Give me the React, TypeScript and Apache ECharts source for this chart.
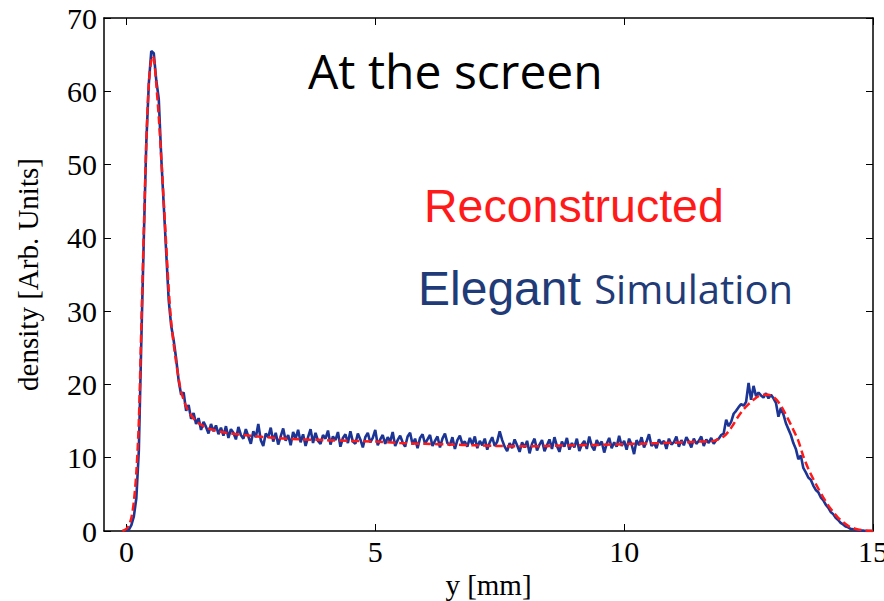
import React, { useEffect, useRef } from "react";
import * as echarts from "echarts";

// Simulation (blue), sampled every 0.05 mm starting at 0
const simStart = 0;
const simStep = 0.05;
const simDensity = [
  0, 0.2, 0.8, 2.0, 4.5, 11, 26, 40, 53, 61,
  65.5, 65.2, 61.5, 59.0, 51, 44.5, 38, 31.5, 28, 26,
  23.5, 20.5, 18.6, 18.9, 16.4, 17.2, 15.3, 16.1, 14.6, 15.4,
  13.8, 14.9, 14.2, 13.3, 14.6, 13.6, 14.4, 13.2, 14.1, 13.0,
  14.3, 12.7, 13.9, 13.4, 12.5, 14.2, 13.1, 12.6, 13.9, 12.9,
  11.9, 13.6, 12.8, 14.6, 12.4, 11.6, 13.3, 12.8, 14.1, 12.2,
  13.4, 11.8, 12.9, 14.0, 12.3, 13.1, 11.7, 13.5, 12.6, 13.8,
  12.1, 13.2, 11.6, 12.8, 13.9, 12.0, 13.4, 12.3, 11.9, 13.1,
  12.6, 13.7, 11.8, 12.9, 12.4, 13.5, 11.5, 12.7, 13.2, 12.0,
  13.6, 12.2, 11.9, 13.3, 12.5, 11.4, 12.8, 13.4, 12.1, 12.7,
  13.8, 11.7, 12.5, 13.1, 11.9, 12.8, 12.2, 13.5, 11.6, 12.4,
  13.0, 12.1, 11.5, 12.9, 13.4, 11.8, 12.6, 11.3, 12.7, 13.2,
  11.9, 12.5, 13.1, 11.6, 12.3, 12.9, 11.4, 12.6, 13.3, 12.0,
  11.7, 12.8, 11.2, 12.4, 13.0, 11.9, 12.2, 11.5, 12.7, 11.8,
  12.9, 11.3, 12.3, 11.7, 12.6, 11.1, 12.1, 12.8, 11.6, 12.2,
  13.6, 12.4, 11.5, 10.9, 12.0, 11.3, 12.5, 11.7, 10.8, 12.1,
  11.4, 12.3, 10.6, 11.9, 12.6, 11.0, 11.8, 12.4, 10.9, 11.7,
  12.5, 11.2, 12.8, 11.6, 10.8, 12.2, 11.5, 12.7, 11.1, 12.0,
  11.4, 12.6, 10.9, 11.8, 12.3, 11.2, 12.9, 11.6, 11.0, 12.4,
  11.7, 12.2, 10.7, 11.9, 12.7, 11.3, 12.1, 11.5, 13.0, 11.6,
  12.3, 11.1, 12.6, 11.8, 10.5, 12.4, 11.7, 12.8, 11.4, 12.2,
  13.2, 11.6, 12.0, 11.3, 12.5, 11.9, 12.3, 11.2, 12.6, 11.8,
  12.1, 12.9, 11.5, 12.4, 11.7, 12.8, 12.2, 11.4, 12.6, 11.9,
  12.3, 12.9, 11.6, 12.5, 12.0, 12.7, 11.9, 12.4, 12.6, 13.1,
  13.3, 15.2, 14.3, 14.9, 16.0, 16.4, 16.9, 17.3, 17.1, 17.6,
  20.2, 17.9, 19.8, 18.4, 18.9, 18.5, 18.2, 18.8, 18.1, 18.6,
  18.1, 17.5, 15.6, 16.8, 15.9, 14.7, 13.9, 13.1, 12.0, 11.2,
  9.8, 10.3, 8.6, 8.0, 7.3, 7.0, 6.2, 5.6, 5.3, 4.6,
  4.2, 3.6, 3.2, 2.6, 2.3, 1.8, 1.5, 1.1, 0.9, 0.6,
  0.5, 0.3, 0.25, 0.15, 0.1, 0.05, 0.05, 0, 0, 0,
  0,
];

// Reconstruction (red dashed)
const recY_mm = [
  -0.08, 0, 0.05, 0.1, 0.15, 0.2, 0.25, 0.3, 0.35, 0.4, 0.45, 0.5, 0.53, 0.56,
  0.6, 0.65, 0.7, 0.75, 0.8, 0.85, 0.9, 0.95, 1.0, 1.05, 1.1, 1.2, 1.3, 1.4,
  1.5, 1.6, 1.8, 2.0, 2.5, 3.0, 3.5, 4.0, 4.5, 5, 5.5, 6, 6.5, 7, 7.5, 8, 8.5,
  9, 9.5, 10, 10.5, 11, 11.5, 11.8, 12.0, 12.1, 12.2, 12.3, 12.4, 12.5, 12.6,
  12.7, 12.8, 12.9, 13.0, 13.1, 13.2, 13.3, 13.4, 13.5, 13.6, 13.7, 13.8, 13.9,
  14.0, 14.1, 14.2, 14.3, 14.4, 14.5, 14.6, 14.7, 14.8, 14.9, 15.0,
];
const recDensity = [
  0, 0.3, 0.8, 1.8, 4, 8, 15, 28, 41, 53, 61, 64.3, 64.8, 64,
  61, 56.5, 51, 45, 39, 33, 28.5, 25.5, 23, 20.8, 19, 17, 15.8, 15,
  14.5, 14.1, 13.7, 13.4, 13, 12.7, 12.5, 12.4, 12.3, 12.2, 12.0, 11.9, 11.8, 11.7, 11.6, 11.55, 11.6,
  11.7, 11.75, 11.85, 11.95, 12.05, 12.2, 12.3, 12.9, 13.6, 14.6, 15.7, 16.6, 17.3, 17.9,
  18.4, 18.6, 18.6, 18.3, 17.6, 16.5, 15.2, 13.8, 12.3, 10.2, 8.5, 7.1, 5.8,
  4.6, 3.5, 2.6, 1.8, 1.2, 0.7, 0.4, 0.2, 0.1, 0.05, 0,
];

const xTicks = [0, 5, 10, 15];

const serif = "'Liberation Serif', 'Times New Roman', serif";

export default function App() {
  const ref = useRef<HTMLDivElement>(null);
  useEffect(() => {
    if (!ref.current) return;
    const chart = echarts.init(ref.current, null, { renderer: "svg" });
    const simData = simDensity.map((v, i) => [simStart + i * simStep, v]);
    const recData = recDensity.map((v, i) => [recY_mm[i], v]);
    const axisLine = { show: true, onZero: false, lineStyle: { color: "#000", width: 1.5 } };
    const tick = { show: true, inside: true, length: 7, lineStyle: { color: "#000", width: 1 } };
    const xCommon = {
      type: "value" as const,
      min: -0.45,
      max: 15,
      splitLine: { show: false },
      axisLine,
    };
    const yCommon = {
      type: "value" as const,
      min: 0,
      max: 70,
      interval: 10,
      splitLine: { show: false },
      axisLine,
    };
    chart.setOption({
      animation: false,
      backgroundColor: "#fff",
      grid: { left: 104, right: 11, top: 18, bottom: 70, containLabel: false, outerBoundsMode: "none" },
      xAxis: [
        {
          ...xCommon,
          position: "bottom",
          name: "y [mm]",
          nameLocation: "middle",
          nameGap: 32,
          nameTextStyle: { fontFamily: serif, fontSize: 29, color: "#000" },
          axisTick: { ...tick, customValues: xTicks },
          axisLabel: { show: true, customValues: xTicks, fontFamily: serif, fontSize: 30, color: "#000", margin: 5 },
        },
        {
          ...xCommon,
          position: "top",
          axisTick: { ...tick, customValues: xTicks },
          axisLabel: { show: false },
        },
      ],
      yAxis: [
        {
          ...yCommon,
          position: "left",
          name: "density [Arb. Units]",
          nameLocation: "middle",
          nameGap: 62,
          nameTextStyle: { fontFamily: serif, fontSize: 29, color: "#000" },
          axisTick: tick,
          axisLabel: { show: true, fontFamily: serif, fontSize: 30, color: "#000", margin: 7 },
        },
        {
          ...yCommon,
          position: "right",
          axisTick: tick,
          axisLabel: { show: false },
        },
      ],
      series: [
        {
          type: "line",
          name: "Elegant Simulation",
          data: simData,
          showSymbol: false,
          lineStyle: { color: "#1c3494", width: 2.6 },
          z: 2,
        },
        {
          type: "line",
          name: "Reconstructed",
          data: recData,
          showSymbol: false,
          smooth: 0.3,
          lineStyle: { color: "#ff1a1a", width: 2.5, type: [8, 4] },
          z: 3,
        },
      ],
      graphic: [
        {
          type: "text",
          left: 308,
          top: 46,
          style: { text: "At the screen", fontFamily: "'Open Sans', sans-serif", fontSize: 48, fill: "#000" },
        },
        {
          type: "text",
          left: 424,
          top: 182,
          style: { text: "Reconstructed", fontFamily: "'Liberation Sans', Arial, sans-serif", fontSize: 46.5, fill: "#ff1a1a" },
        },
        {
          type: "text",
          left: 418,
          top: 264,
          style: {
            text: "{a|Elegant }{b|Simulation}",
            rich: {
              a: { fontFamily: "'Liberation Sans', Arial, sans-serif", fontSize: 48, fill: "#1f3b78", color: "#1f3b78" },
              b: { fontFamily: "'Open Sans', sans-serif", fontSize: 40, fill: "#1f3b78", color: "#1f3b78" },
            },
          },
        },
      ],
    });
    return () => chart.dispose();
  }, []);
  return <div ref={ref} style={{ width: 884, height: 601, position: "absolute", left: 0, top: 0 }} />;
}
